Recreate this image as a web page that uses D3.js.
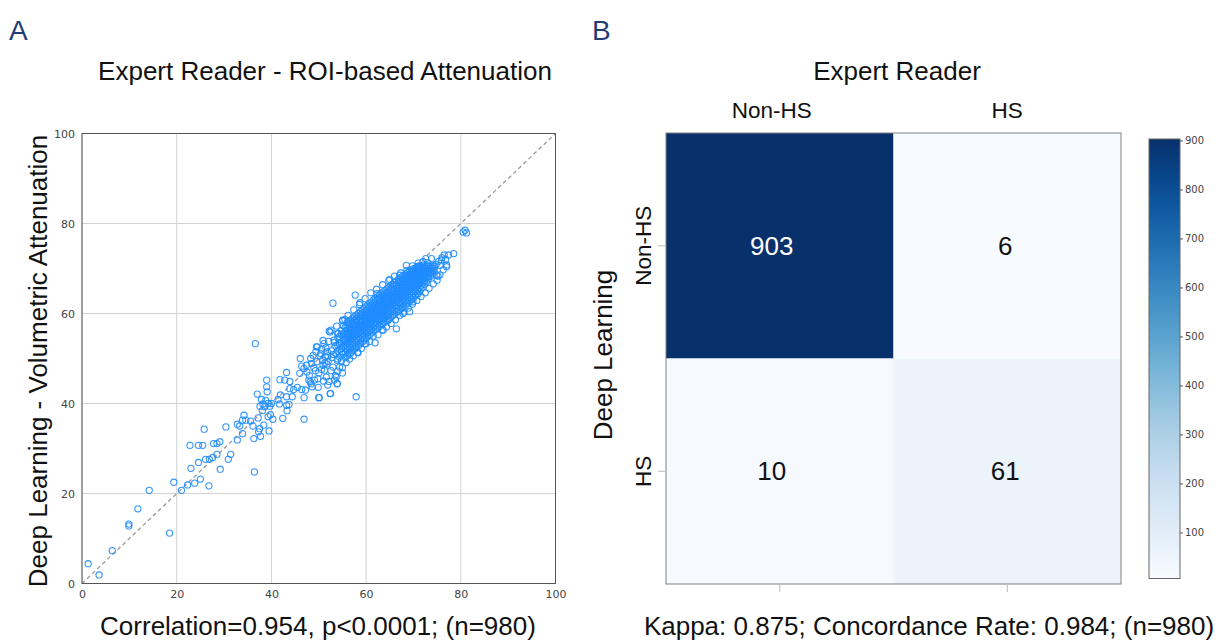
<!DOCTYPE html>
<html><head><meta charset="utf-8">
<script src="https://cdn.jsdelivr.net/npm/d3@7"></script>
<style>
html,body{margin:0;padding:0;background:#fff;}
svg{display:block;}
text{font-family:"Liberation Sans",Arial,sans-serif;}
.tick text{font-family:"DejaVu Sans",sans-serif;}
</style></head>
<body>
<svg id="chart" width="1225" height="643"></svg>
<script>
// ---------------- DATA ----------------
const scatterTicks = [0, 20, 40, 60, 80, 100];
// sparse points (Expert ROI, Deep Learning volumetric)
const lowRangePoints = [
 [1.3,4.4],[3.6,1.9],[6.4,7.3],[9.9,13.2],[9.9,12.8],[11.8,16.6],[14.2,20.7],[18.5,11.2],[19.4,22.5],[21.0,20.7],
 [22.3,21.9],[22.8,30.7],[23.0,25.6],[23.8,22.3],[24.6,30.7],[24.6,26.9],[25.0,23.2],[25.5,30.7],[25.8,34.3],[26.1,27.6],
 [26.8,21.7],[26.9,27.6],[27.6,28.0],[27.8,31.1],[28.5,31.1],[28.5,28.7],[29.1,31.5],[29.2,25.4],[30.4,34.8],[30.9,27.6],
 [31.4,28.7],[32.8,31.9],[32.8,35.4],[33.3,35.0],[33.9,33.3],[34.2,37.4],[33.9,36.3],[34.6,36.3],[35.6,36.1],[36.1,35.0],
 [36.3,32.2],[36.4,24.8],[36.6,53.3],[37.0,42.1],[37.2,36.8],[37.3,33.7],[37.5,34.4],[37.6,39.4],[37.7,32.7],[37.9,40.9],
 [38.1,38.4],[38.2,39.9],[38.4,35.2],[38.6,39.3],[38.8,40.7],[39.0,43.7],[39.0,45.2],[39.1,42.6],[39.3,40.0],[39.3,37.1],
 [39.5,33.9],[39.7,39.4],[39.8,37.5],[40.0,40.0],[40.3,36.5],[41.4,40.9],[41.7,39.9],[41.8,45.3],[41.9,41.9],[42.4,36.7],
 [42.8,45.2],[43.2,46.9],[43.2,41.5],[43.2,39.6],[43.3,38.4],[43.7,39.8],[43.9,44.9],[43.9,43.3],[44.4,41.5],[44.7,43.1],
 [45.5,43.6],[46.0,46.7],[46.1,50.0],[46.4,48.3],[46.4,43.1],[46.9,47.8],[46.9,41.3],[46.9,36.5],[47.2,43.0],[47.4,48.5],
 [47.9,45.2],[48.3,50.0],[48.4,44.4],[48.6,43.7],[48.8,50.7],[49.1,45.2],[49.3,47.3],[49.4,51.5],[49.7,52.6],[49.9,43.6],
 [50.1,41.3],[50.4,51.1],[50.6,47.6],[50.8,49.6],[51.1,53.3],[51.2,47.4],[51.4,50.4],[51.6,45.9],[51.8,51.5],[51.9,44.1],
 [52.4,55.9],[52.5,42.2],[53.0,62.3],[53.2,54.1],[53.3,45.2],[53.6,51.1],[53.9,44.4],[54.1,55.6],[54.3,53.3],[54.4,48.1]
];
const upperRangePoints = [
 [57.7,64.1],[57.9,41.5],[58.3,51.3],[50.0,41.3],[52.4,42.2],[66.4,56.6],[61.9,53.5],[60.0,53.3],[68.5,70.7],[71.0,70.4],
 [72.6,72.2],[73.8,72.2],[75.2,68.3],[75.6,70.7],[75.9,71.9],[76.5,73.0],[77.0,70.4],[77.4,73.0],[78.5,73.3],[80.5,78.1],
 [80.9,78.5],[81.2,77.9],[65.0,67.6],[67.1,68.5],[62.3,64.4],[62.9,61.9],[58.7,62.4],[55.1,58.5],[55.5,58.7],[52.2,56.1],
 [49.5,52.6],[69.2,60.4],[69.9,62.6],[71.0,64.4],[73.1,68.1],[74.9,68.5],[63.6,56.3],[64.7,58.5],[67.8,60.0],[53.9,44.4],
 [55.0,46.8],[53.7,45.9],[53.0,48.1]
];
const edgePoints = [
 [47.5,47.0],[48.0,46.2],[48.5,48.9],[49.0,47.9],[49.6,49.3],[50.0,46.8],[50.3,50.6],[50.9,48.5],[51.5,52.4],[52.0,49.4],
 [52.6,47.3],[53.1,50.9],[53.6,52.8],[48.2,44.8],[49.8,45.5],[51.0,45.0],[52.2,44.9],[53.5,46.2],[54.0,47.2],[55.0,48.0],
 [55.8,49.1],[56.5,49.9],[57.3,50.6],[58.2,51.4],[59.0,52.2],[59.8,53.3],[60.7,53.8],[61.5,55.0],[62.5,55.3],[63.4,56.4],
 [64.3,57.0],[65.3,57.8],[66.2,58.6],[67.1,59.6],[68.0,60.3],[68.9,61.2],[69.8,62.1],[70.7,62.9],[71.6,63.8],[72.5,64.6],
 [73.3,65.6],[74.2,66.6],[75.0,67.4],[75.6,68.6],[76.3,69.7],[77.0,70.8],[74.8,70.9],[75.3,71.6],[76.0,72.4],[76.8,72.0],
 [73.0,71.3],[72.0,71.5],[71.0,71.2],[69.8,70.6],[68.6,69.6],[67.3,69.0],[66.0,68.3],[64.8,67.3],[63.5,66.4],[62.2,65.4],
 [61.0,64.6],[59.8,63.3],[58.6,62.0],[57.4,60.8],[56.2,59.6],[55.0,58.4],[53.8,57.2],[52.6,56.3],
 [50.6,52.1],[51.7,48.8],[52.8,50.2],[53.3,53.6],[52.1,53.8],[50.9,54.0],[51.3,49.0],[53.9,49.6],[52.7,51.7],[51.9,50.6]
];
// dense core: Expert ROI value per column and the Deep Learning values read in that column
const coreX = [54.0,54.4,54.8,55.2,55.6,56.0,56.4,56.8,57.2,57.6,58.0,58.4,58.8,59.2,59.6,60.0,60.4,60.8,61.2,61.6,
 62.0,62.4,62.8,63.2,63.6,64.0,64.4,64.8,65.2,65.6,66.0,66.4,66.8,67.2,67.6,68.0,68.4,68.8,69.2,69.6,
 70.0,70.4,70.8,71.2,71.6,72.0,72.4,72.8,73.2,73.6,74.0,74.4];
const coreY = [
 [49.9,51.6,53.0,54.6,55.5],
 [50.3,52.0,53.4,54.9],
 [49.5,51.5,52.3,53.7,55.3,56.2],
 [51.0,52.7,54.1,55.6,57.3],
 [50.2,51.3,52.2,53.0,53.7,54.4,55.2,56.0,56.9],
 [50.6,51.7,52.6,53.4,54.1,54.8,55.5,56.3,57.2,58.0],
 [51.0,52.1,53.0,53.8,54.5,55.2,55.9,56.7,57.5,58.3],
 [51.3,52.4,53.3,54.1,54.8,55.5,56.3,57.0,57.8,58.6],
 [51.7,52.8,53.7,54.5,55.2,55.9,56.6,57.4,58.2,59.0],
 [52.1,53.2,54.1,54.9,55.6,56.3,57.0,57.7,58.5,59.3],
 [52.5,53.6,54.5,55.2,55.9,56.6,57.3,58.1,58.9,59.7],
 [52.9,54.0,54.8,55.6,56.3,57.0,57.7,58.4,59.2,60.0],
 [53.3,54.4,55.2,56.0,56.7,57.4,58.1,58.8,59.6,60.4],
 [53.7,54.7,55.6,56.3,57.0,57.7,58.4,59.2,60.0,60.8],
 [54.1,55.1,56.0,56.7,57.4,58.1,58.8,59.5,60.3,61.1],
 [54.5,55.5,56.3,57.1,57.8,58.5,59.2,59.9,60.7,61.5],
 [54.9,55.9,56.7,57.5,58.2,58.9,59.6,60.3,61.1,61.9],
 [55.3,56.3,57.1,57.8,58.5,59.2,59.9,60.7,61.5,62.3],
 [55.7,56.7,57.5,58.2,58.9,59.6,60.3,61.0,61.8,62.6],
 [56.1,57.0,57.8,58.6,59.3,60.0,60.7,61.4,62.2,63.0],
 [56.4,57.4,58.2,58.9,59.6,60.3,61.0,61.8,62.6,63.4],
 [56.8,57.8,58.6,59.3,60.0,60.7,61.4,62.1,62.9,63.7],
 [57.1,58.1,58.9,59.6,60.3,61.0,61.7,62.5,63.3,64.1],
 [57.5,58.5,59.3,60.0,60.7,61.4,62.1,62.8,63.6,64.4],
 [57.8,58.8,59.6,60.3,61.0,61.7,62.4,63.2,64.0,64.8],
 [58.1,59.1,59.9,60.7,61.4,62.1,62.8,63.5,64.3,65.1],
 [58.5,59.5,60.3,61.0,61.7,62.4,63.1,63.9,64.7,65.5],
 [58.8,59.8,60.6,61.4,62.1,62.8,63.5,64.2,65.0,65.8],
 [59.2,60.2,61.0,61.7,62.4,63.1,63.8,64.6,65.4,66.2],
 [59.5,60.5,61.3,62.1,62.8,63.5,64.2,64.9,65.7,66.5],
 [59.8,60.8,61.7,62.4,63.1,63.8,64.5,65.3,66.1,66.9],
 [60.2,61.2,62.0,62.8,63.5,64.2,64.9,65.6,66.4,67.2],
 [60.5,61.5,62.4,63.1,63.8,64.5,65.2,66.0,66.8,67.5],
 [60.9,61.9,62.7,63.5,64.2,64.9,65.6,66.3,67.1,67.9],
 [61.2,62.2,63.0,63.8,64.5,65.2,65.9,66.7,67.5,68.2],
 [61.6,62.6,63.4,64.1,64.9,65.6,66.3,67.0,67.8,68.5],
 [61.9,62.9,63.8,64.5,65.2,65.9,66.6,67.4,68.1,68.8],
 [62.3,63.3,64.1,64.9,65.6,66.3,67.0,67.7,68.4,69.1],
 [62.7,63.7,64.5,65.2,65.9,66.6,67.3,68.0,68.7,69.4],
 [63.1,64.1,64.9,65.6,66.3,67.0,67.7,68.3,69.0,69.7],
 [63.5,64.5,65.3,66.0,66.7,67.3,68.0,68.6,69.3,69.9],
 [64.0,64.9,65.7,66.4,67.1,67.7,68.3,68.9,69.5,70.1],
 [64.4,65.3,66.1,66.8,67.4,68.0,68.6,69.2,69.8,70.4],
 [64.9,65.8,66.5,67.2,67.8,68.4,69.0,69.6,70.2,70.6],
 [65.4,66.3,67.0,67.6,68.2,68.8,69.4,69.9,70.4],
 [65.9,66.8,67.5,68.1,68.7,69.2,69.7,70.2,70.7],
 [66.5,67.3,68.0,68.6,69.1,69.6,70.1,70.6],
 [67.1,67.9,68.5,69.1,69.6,70.1,70.6],
 [67.7,68.4,69.0,69.6,70.1,70.6],
 [68.3,69.0,69.6,70.1,70.6],
 [68.8,69.5,70.1,70.6],
 [69.3,70.0,70.5]
];
const matrixCols = ["Non-HS", "HS"];   // Expert Reader
const matrixRows = ["Non-HS", "HS"];   // Deep Learning
const matrixValues = [[903, 6], [10, 61]];
const colorbarTicks = [100, 200, 300, 400, 500, 600, 700, 800, 900];

// ---------------- DRAW ----------------
const svg = d3.select("#chart");
const points = [];
lowRangePoints.forEach(p => points.push(p));
upperRangePoints.forEach(p => points.push(p));
edgePoints.forEach(p => points.push(p));
coreX.forEach((x, i) => coreY[i].forEach(y => points.push([x, y])));

// Panel labels
svg.append("text").attr("x", 9).attr("y", 40).attr("font-size", 28).attr("fill", "#1f3c73").text("A");
svg.append("text").attr("x", 592).attr("y", 40).attr("font-size", 28).attr("fill", "#1f3c73").text("B");

// ---- Scatter ----
const x = d3.scaleLinear().domain([0, 100]).range([82, 555.5]);
const y = d3.scaleLinear().domain([0, 100]).range([583.5, 133.5]);
const gS = svg.append("g");

gS.append("g").selectAll("line.gx").data(scatterTicks).join("line")
  .attr("x1", d => x(d)).attr("x2", d => x(d)).attr("y1", y(0)).attr("y2", y(100))
  .attr("stroke", "#d2d2d2").attr("stroke-width", 1);
gS.append("g").selectAll("line.gy").data(scatterTicks).join("line")
  .attr("y1", d => y(d)).attr("y2", d => y(d)).attr("x1", x(0)).attr("x2", x(100))
  .attr("stroke", "#d2d2d2").attr("stroke-width", 1);

gS.append("line").attr("x1", x(0)).attr("y1", y(0)).attr("x2", x(100)).attr("y2", y(100))
  .attr("stroke", "#9a9a9a").attr("stroke-width", 1.3).attr("stroke-dasharray", "4,3");

gS.append("g").selectAll("circle").data(points).join("circle")
  .attr("cx", d => x(d[0])).attr("cy", d => y(d[1])).attr("r", 3.1)
  .attr("fill", "none").attr("stroke", "#1e8cff").attr("stroke-width", 1.1).attr("stroke-opacity", 0.9);

gS.append("rect").attr("x", x(0)).attr("y", y(100)).attr("width", x(100) - x(0)).attr("height", y(0) - y(100))
  .attr("fill", "none").attr("stroke", "#555").attr("stroke-width", 1);

const xa = gS.append("g").attr("transform", `translate(0,${y(0)})`)
  .call(d3.axisBottom(x).tickValues(scatterTicks).tickSize(0).tickPadding(7));
const ya = gS.append("g").attr("transform", `translate(${x(0)},0)`)
  .call(d3.axisLeft(y).tickValues(scatterTicks).tickSize(0).tickPadding(7));
[xa, ya].forEach(a => {
  a.select(".domain").remove();
  a.selectAll("text").attr("font-size", 11).attr("fill", "#444");
});

svg.append("text").attr("x", 325).attr("y", 80).attr("text-anchor", "middle").attr("font-size", 26).attr("fill", "#111")
  .text("Expert Reader - ROI-based Attenuation");
svg.append("text").attr("transform", "translate(47,361) rotate(-90)").attr("text-anchor", "middle").attr("font-size", 26).attr("fill", "#111")
  .text("Deep Learning - Volumetric Attenuation");
svg.append("text").attr("x", 318).attr("y", 635).attr("text-anchor", "middle").attr("font-size", 26).attr("fill", "#111")
  .text("Correlation=0.954, p<0.0001; (n=980)");

// ---- Confusion matrix ----
const bx = d3.scaleBand().domain(matrixCols).range([666, 1121]);
const by = d3.scaleBand().domain(matrixRows).range([133, 584]);
const vmin = d3.min(matrixValues.flat()), vmax = d3.max(matrixValues.flat());
const color = d3.scaleSequential(d3.interpolateBlues).domain([vmin, vmax]);
const cells = [];
matrixRows.forEach((r, i) => matrixCols.forEach((c, j) => cells.push({ r, c, v: matrixValues[i][j] })));

const gH = svg.append("g");
gH.selectAll("rect.cell").data(cells).join("rect")
  .attr("x", d => bx(d.c)).attr("y", d => by(d.r)).attr("width", bx.bandwidth()).attr("height", by.bandwidth())
  .attr("fill", d => color(d.v));
gH.selectAll("text.val").data(cells).join("text")
  .attr("x", d => bx(d.c) + bx.bandwidth() / 2 - (d.c === "Non-HS" ? 8 : 2)).attr("y", d => by(d.r) + by.bandwidth() / 2 + 9)
  .attr("text-anchor", "middle").attr("font-size", 26)
  .attr("fill", d => d.v > (vmin + vmax) / 2 ? "#fff" : "#111").text(d => d.v);
gH.append("rect").attr("x", 666).attr("y", 133).attr("width", 455).attr("height", 451)
  .attr("fill", "none").attr("stroke", "#808080").attr("stroke-width", 1);

// ticks
gH.selectAll("line.tb").data(matrixCols).join("line")
  .attr("x1", d => bx(d) + bx.bandwidth() / 2).attr("x2", d => bx(d) + bx.bandwidth() / 2)
  .attr("y1", 585).attr("y2", 592).attr("stroke", "#bbb");
gH.selectAll("line.tl").data(matrixRows).join("line")
  .attr("y1", d => by(d) + by.bandwidth() / 2).attr("y2", d => by(d) + by.bandwidth() / 2)
  .attr("x1", 658).attr("x2", 665).attr("stroke", "#bbb");

gH.selectAll("text.colLab").data(matrixCols).join("text")
  .attr("x", d => bx(d) + bx.bandwidth() / 2 - (d === "Non-HS" ? 8 : 0)).attr("y", 118)
  .attr("text-anchor", "middle").attr("font-size", 22.5).attr("fill", "#111").text(d => d);
gH.selectAll("text.rowLab").data(matrixRows).join("text")
  .attr("transform", d => `translate(651,${by(d) + by.bandwidth() / 2}) rotate(-90)`)
  .attr("text-anchor", "middle").attr("font-size", 22.5).attr("fill", "#111").text(d => d);

svg.append("text").attr("x", 897).attr("y", 80).attr("text-anchor", "middle").attr("font-size", 26).attr("fill", "#111").text("Expert Reader");
svg.append("text").attr("transform", "translate(612,355) rotate(-90)").attr("text-anchor", "middle").attr("font-size", 26).attr("fill", "#111").text("Deep Learning");
svg.append("text").attr("x", 929).attr("y", 635).attr("text-anchor", "middle").attr("font-size", 26).attr("fill", "#111")
  .text("Kappa: 0.875; Concordance Rate: 0.984; (n=980)");

// ---- Colorbar ----
const cb = d3.scaleLinear().domain([vmin, vmax]).range([578.5, 139]);
const defs = svg.append("defs");
const grad = defs.append("linearGradient").attr("id", "cbg").attr("x1", 0).attr("y1", 1).attr("x2", 0).attr("y2", 0);
d3.range(0, 1.0001, 0.05).forEach(t => grad.append("stop").attr("offset", t).attr("stop-color", d3.interpolateBlues(t)));
svg.append("rect").attr("x", 1149).attr("y", cb(vmax)).attr("width", 31).attr("height", cb(vmin) - cb(vmax))
  .attr("fill", "url(#cbg)").attr("stroke", "#666").attr("stroke-width", 1);
const ca = svg.append("g").attr("transform", "translate(1180,0)")
  .call(d3.axisRight(cb).tickValues(colorbarTicks).tickSize(3).tickPadding(2));
ca.select(".domain").remove();
ca.selectAll("line").attr("stroke", "#555");
ca.selectAll("text").attr("font-size", 10).attr("fill", "#444");
</script>
</body></html>
